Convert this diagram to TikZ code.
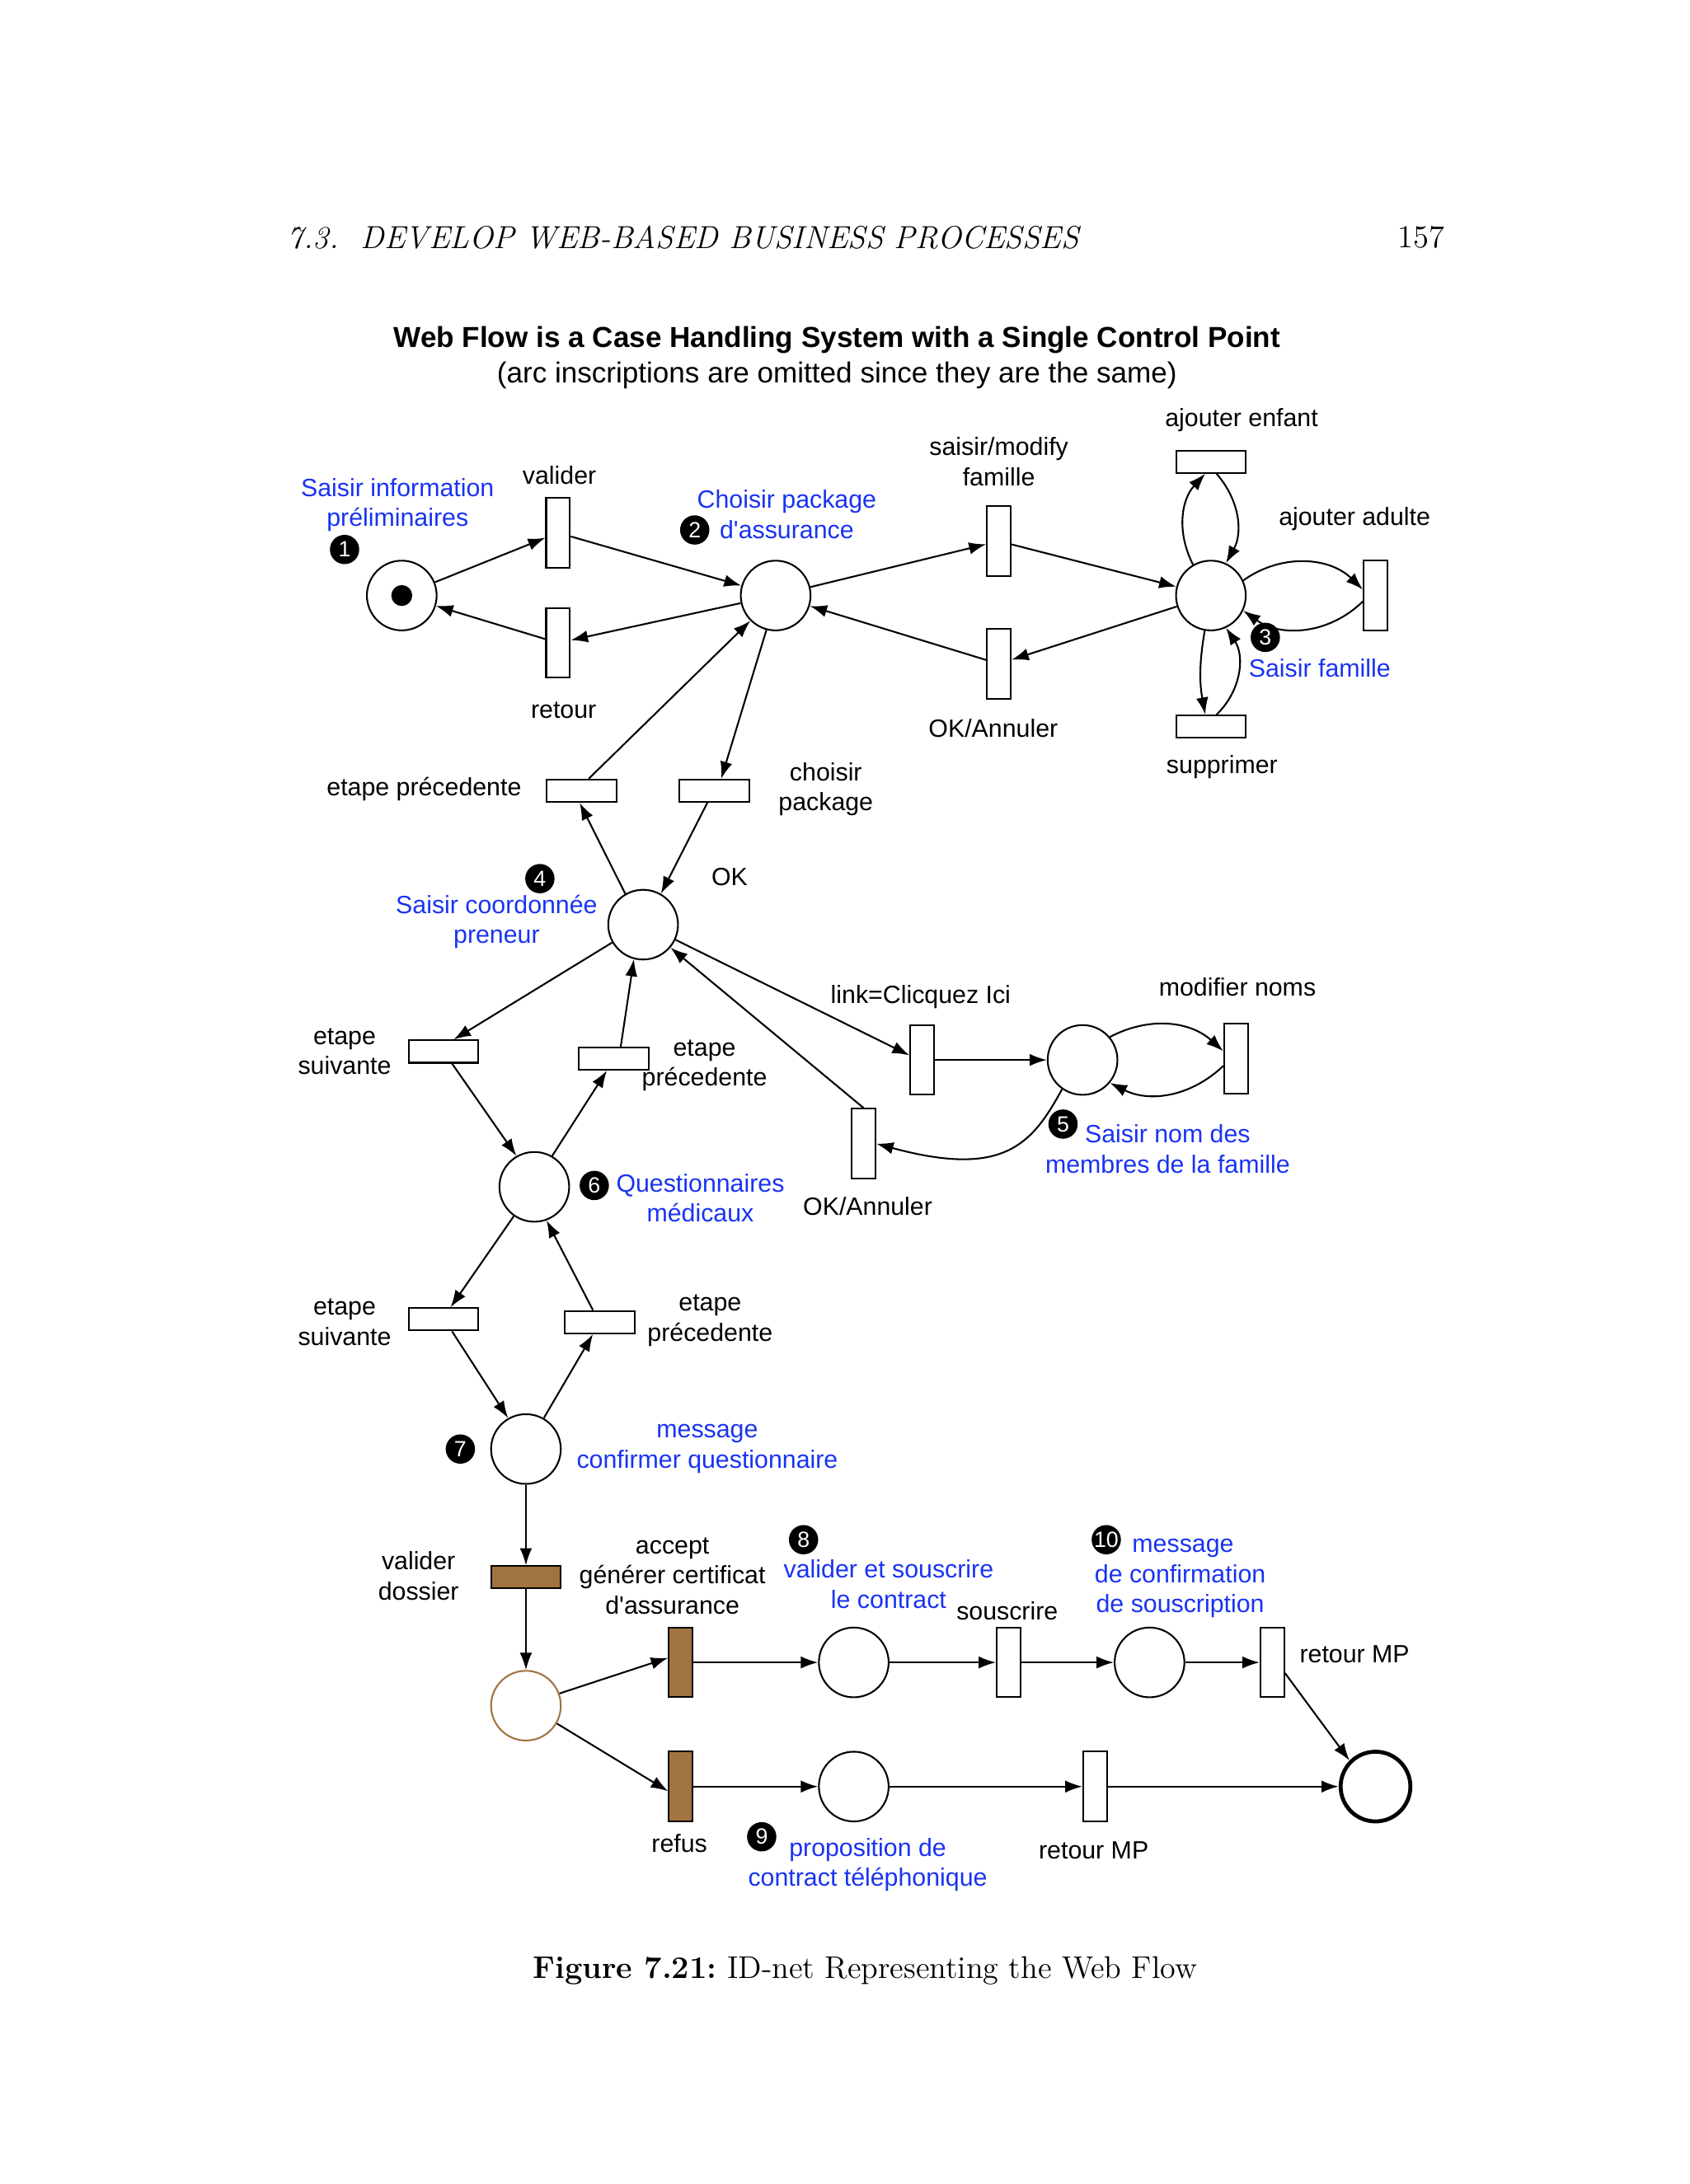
\documentclass[tikz,border=0pt]{standalone}
\usepackage{fontspec}
\setmainfont{Liberation Sans}
\newfontfamily\lmr{Latin Modern Roman}
\usetikzlibrary{arrows.meta}
\definecolor{lblue}{rgb}{0.1,0.2,0.95}
\definecolor{brn}{rgb}{0.63,0.45,0.25}
\begin{document}
\begin{tikzpicture}[x=0.02cm,y=-0.02cm,
 every node/.style={font=\fontsize{10.2}{12.3}\selectfont, align=center},
 pl/.style={circle,draw,line width=0.7pt,minimum size=1.0cm,inner sep=0},
 tv/.style={draw,line width=0.7pt,minimum width=0.34cm,minimum height=1.0cm,inner sep=0},
 th/.style={draw,line width=0.7pt,minimum width=1.0cm,minimum height=0.32cm,inner sep=0},
 arc/.style={-{Latex[length=7pt,width=5pt]},line width=0.7pt},
 bl/.style={text=lblue},
 num/.style={circle,fill=black,text=white,inner sep=0,minimum size=0.42cm,font=\fontsize{9}{9}\selectfont}]
\useasboundingbox (0,0) rectangle (1211,1566);
\node[font=\lmr\itshape\fontsize{13}{15}\selectfont,anchor=west] (hd) at (200,170) {7.3.\ \ DEVELOP WEB-BASED BUSINESS PROCESSES};
\node[font=\lmr\fontsize{13}{15}\selectfont,anchor=east] (pg) at (1042,170) {157};
\node[font=\bfseries\fontsize{11.8}{14}\selectfont] (t1) at (600,244) {Web Flow is a Case Handling System with a Single Control Point};
\node[font=\fontsize{11.8}{14}\selectfont] (t2) at (600,269) {(arc inscriptions are omitted since they are the same)};
% places
\node[pl] (p1) at (288,427) {};
\fill (288,427) circle (7.5);
\node[pl] (p2) at (556,427) {};
\node[pl] (p3) at (868,427) {};
\node[pl] (p4) at (461,663) {};
\node[pl] (p5) at (776,760) {};
\node[pl] (p6) at (383,851) {};
\node[pl] (p7) at (377,1039) {};
\node[pl,draw=brn] (p8) at (377,1223) {};
\node[pl] (p9) at (612,1192) {};
\node[pl] (p10) at (824,1192) {};
\node[pl] (p11) at (612,1281) {};
\node[pl,line width=1.6pt] (pe) at (986,1281) {};
% transitions
\node[tv] (va) at (400,382) {};
\node[tv] (re) at (400,461) {};
\node[tv] (sm) at (716,388) {};
\node[tv] (ok1) at (716,476) {};
\node[tv] (ad) at (986,427) {};
\node[th] (ae) at (868,331) {};
\node[th] (su) at (868,521) {};
\node[th] (ep1) at (417,567) {};
\node[th] (cp) at (512,567) {};
\node[th] (es1) at (318,754) {};
\node[th] (ep2) at (440,759) {};
\node[tv] (lk) at (661,760) {};
\node[tv] (mn) at (886,759) {};
\node[tv] (ok2) at (619,820) {};
\node[th] (es2) at (318,946) {};
\node[th] (ep3) at (430,948) {};
\node[th,fill=brn] (vd) at (377,1131) {};
\node[tv,fill=brn] (ac) at (488,1192) {};
\node[tv] (so) at (723,1192) {};
\node[tv] (rm1) at (912,1192) {};
\node[tv,fill=brn] (rf) at (488,1281) {};
\node[tv] (rm2) at (785,1281) {};
% arcs
\draw[arc] (p1) -- (va);
\draw[arc] (va) -- (p2);
\draw[arc] (p2) -- (re);
\draw[arc] (re) -- (p1);
\draw[arc] (p2) -- (sm);
\draw[arc] (sm) -- (p3);
\draw[arc] (p3) -- (ok1);
\draw[arc] (ok1) -- (p2);
\draw[arc] (p3.120) to[bend left=35] (ae.-115);
\draw[arc] (ae.-65) to[bend left=35] (p3.65);
\draw[arc] (p3.25) to[bend left=40] (ad.155);
\draw[arc] (ad.205) to[bend left=40] (p3.-25);
\draw[arc] (p3.-100) to[bend right=10] (su.115);
\draw[arc] (su.65) to[bend right=40] (p3.-65);
\draw[arc] (ep1.60) -- (p2.-135);
\draw[arc] (p2.-105) -- (cp.60);
\draw[arc] (cp.-120) -- (p4.60);
\draw[arc] (p4.120) -- (ep1.-100);
\draw[arc] (p4.-150) -- (es1.50);
\draw[arc] (es1.-55) -- (p6.120);
\draw[arc] (p6.60) -- (ep2.-120);
\draw[arc] (ep2.60) -- (p4.-105);
\draw[arc] (p4.-25) -- (lk.160);
\draw[arc] (lk) -- (p5);
\draw[arc] (p5.40) to[bend left=35] (mn.150);
\draw[arc] (mn.210) to[bend left=35] (p5.-40);
\draw[arc] (p5.-125) .. controls (740,820) and (720,845) .. (ok2.east);
\draw[arc] (ok2.north) -- (p4.-40);
\draw[arc] (p6.-125) -- (es2.60);
\draw[arc] (es2.-55) -- (p7.120);
\draw[arc] (p7.60) -- (ep3.-120);
\draw[arc] (ep3.120) -- (p6.-70);
\draw[arc] (p7) -- (vd);
\draw[arc] (vd) -- (p8);
\draw[arc] (p8.20) -- (ac.160);
\draw[arc] (ac) -- (p9);
\draw[arc] (p9) -- (so);
\draw[arc] (so) -- (p10);
\draw[arc] (p10) -- (rm1);
\draw[arc] (rm1.-40) -- (pe.135);
\draw[arc] (p8.-30) -- (rf.-160);
\draw[arc] (rf) -- (p11);
\draw[arc] (p11) -- (rm2);
\draw[arc] (rm2) -- (pe);
% labels
\node[bl] (l1) at (285,362) {Saisir information\\préliminaires};
\node[num] (n1) at (247,394) {1};
\node (lva) at (401,341) {valider};
\node (lre) at (404,509) {retour};
\node[bl] (l2) at (564,369) {Choisir package\\d\textquotesingle assurance};
\node[num] (n2) at (498,380) {2};
\node (lsm) at (716,331) {saisir/modify\\famille};
\node (lae) at (890,301) {ajouter enfant};
\node (lad) at (971,372) {ajouter adulte};
\node[num] (n3) at (907,457) {3};
\node[bl] (l3) at (946,479) {Saisir famille};
\node (lsu) at (876,550) {supprimer};
\node (lok1) at (712,522) {OK/Annuler};
\node (lep1) at (304,566) {etape précedente};
\node (lcp) at (592,566) {choisir\\package};
\node (lok) at (523,629) {OK};
\node[num] (n4) at (387,630) {4};
\node[bl] (l4) at (356,661) {Saisir coordonnée\\preneur};
\node (llk) at (660,715) {link=Clicquez Ici};
\node (lmn) at (887,708) {modifier noms};
\node[num] (n5) at (762,806) {5};
\node[bl] (l5) at (837,824) {Saisir nom des\\membres de la famille};
\node (lok2) at (622,865) {OK/Annuler};
\node (les1) at (247,754) {etape\\suivante};
\node (lep2) at (505,764) {etape\\précedente};
\node[num] (n6) at (426,850) {6};
\node[bl] (l6) at (502,859) {Questionnaires\\médicaux};
\node (les2) at (247,948) {etape\\suivante};
\node (lep3) at (509,947) {etape\\précedente};
\node[num] (n7) at (330,1039) {7};
\node[bl] (l7) at (507,1039) {message\\confirmer questionnaire};
\node (lvd) at (300,1130) {valider\\dossier};
\node (lac) at (482,1130) {accept\\générer certificat\\d\textquotesingle assurance};
\node[num] (n8) at (576,1104) {8};
\node[bl] (l8) at (637,1136) {valider et souscrire\\le contract};
\node (lso) at (722,1155) {souscrire};
\node[num] (n10) at (793,1104) {10};
\node[bl] (l10a) at (848,1110) {message};
\node[bl] (l10) at (846,1141) {de confirmation\\de souscription};
\node (lrm1) at (971,1186) {retour MP};
\node (lrf) at (487,1322) {refus};
\node[num] (n9) at (546,1317) {9};
\node[bl] (l9) at (622,1337) {proposition de\\contract téléphonique};
\node (lrm2) at (784,1327) {retour MP};
\node[font=\lmr\fontsize{12.8}{15}\selectfont] (cap) at (620,1413) {\textbf{Figure 7.21:}\ ID-net Representing the Web Flow};
\end{tikzpicture}
\end{document}
